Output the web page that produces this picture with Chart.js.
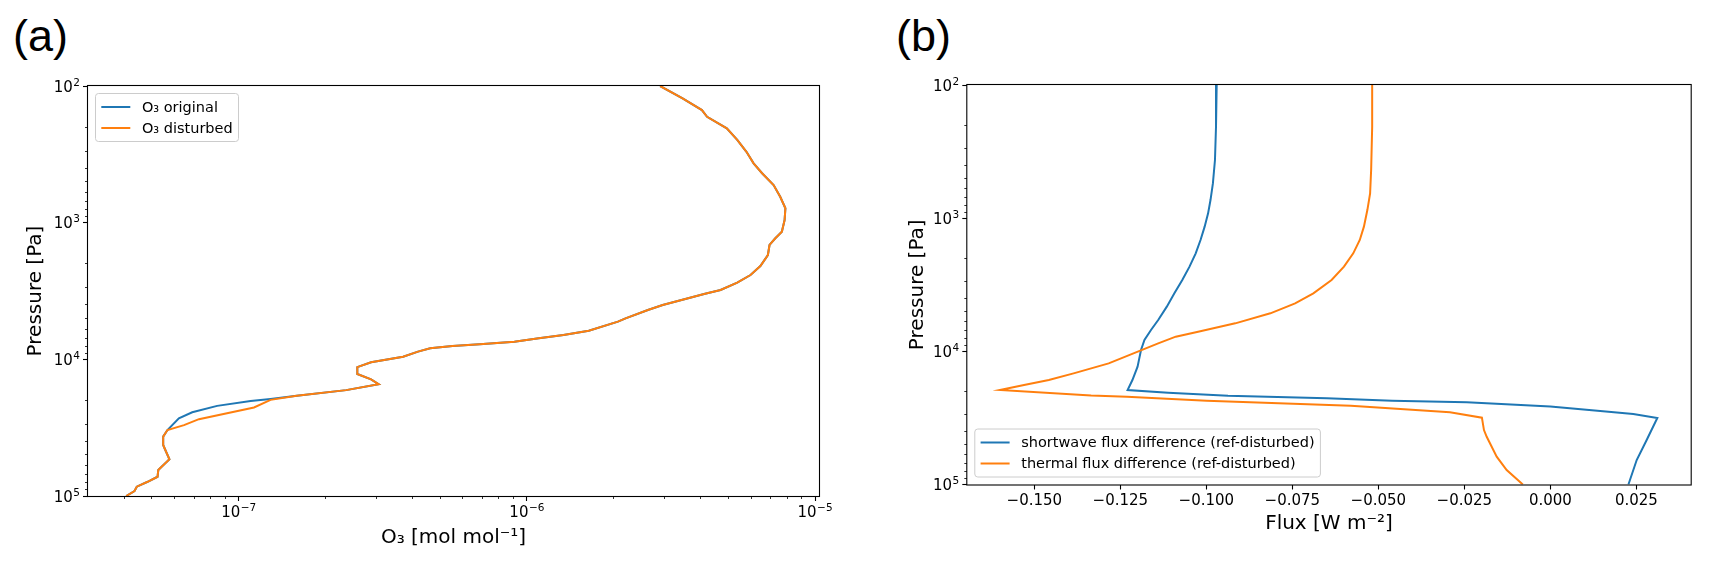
<!DOCTYPE html>
<html>
<head>
<meta charset="utf-8">
<script src="https://cdn.jsdelivr.net/npm/chart.js@4.4.1/dist/chart.umd.min.js"></script>
<style>
  html, body { margin: 0; padding: 0; background: #fff; }
  body { width: 1709px; height: 565px; position: relative; overflow: hidden; font-family: "DejaVu Sans", sans-serif; }
  .panel { position: absolute; top: 0; height: 565px; }
  .tag { position: absolute; font-family: "Liberation Sans", sans-serif; font-size: 45px; line-height: 1; color: #000; }
</style>
</head>
<body>
<div class="tag" style="left:13px; top:13px;">(a)</div>
<div class="tag" style="left:896px; top:13px;">(b)</div>
<div class="panel" style="left:0; width:880px;"><canvas id="chartA"></canvas></div>
<div class="panel" style="left:880px; width:829px;"><canvas id="chartB"></canvas></div>

<script>
// ---- panel (a): ozone profiles ----
var pressureOriginal = [100, 123, 150, 168, 204, 248, 303, 368, 435, 530, 646, 785, 956, 1164, 1301, 1456, 1725, 2075, 2415, 2750,
    3110, 3325, 3637, 4003, 4354, 5010, 5303, 6170, 6635, 7016, 7430, 7760, 7985, 8300, 8785, 9560, 10500, 11400, 12800, 14000,
    15200, 16800, 18500, 19500, 20200, 21900, 24400, 27000, 32900, 36800, 42300, 45500, 53900, 64600, 72300, 78700, 85500, 92000, 100000];
var o3Original = [2.90e-6, 3.47e-6, 4.05e-6, 4.22e-6, 4.94e-6, 5.37e-6, 5.78e-6, 6.12e-6, 6.55e-6, 7.18e-6, 7.57e-6, 7.89e-6, 7.84e-6, 7.67e-6, 7.28e-6, 6.95e-6, 6.86e-6, 6.46e-6, 5.97e-6, 5.37e-6,
    4.70e-6, 4.12e-6, 3.52e-6, 2.96e-6, 2.63e-6, 2.20e-6, 2.07e-6, 1.64e-6, 1.34e-6, 1.10e-6, 9.05e-7, 6.86e-7, 5.52e-7, 4.62e-7, 4.19e-7, 3.72e-7, 2.88e-7, 2.58e-7, 2.58e-7, 2.88e-7,
    3.06e-7, 2.36e-7, 1.59e-7, 1.29e-7, 1.10e-7, 8.42e-8, 6.90e-8, 6.20e-8, 5.66e-8, 5.47e-8, 5.47e-8, 5.55e-8, 5.75e-8, 5.26e-8, 5.23e-8, 4.83e-8, 4.43e-8, 4.35e-8, 4.07e-8];

var pressureDisturbed = [100, 123, 150, 168, 204, 248, 303, 368, 435, 530, 646, 785, 956, 1164, 1301, 1456, 1725, 2075, 2415, 2750,
    3110, 3325, 3637, 4003, 4354, 5010, 5303, 6170, 6635, 7016, 7430, 7760, 7985, 8300, 8785, 9560, 10500, 11400, 12800, 14000,
    15200, 16800, 18500, 19800, 22500, 27400, 30300, 32900, 36800, 42300, 45500, 53900, 64600, 72300, 78700, 85500, 92000, 100000];
var o3Disturbed = [2.90e-6, 3.47e-6, 4.05e-6, 4.22e-6, 4.94e-6, 5.37e-6, 5.78e-6, 6.12e-6, 6.55e-6, 7.18e-6, 7.57e-6, 7.89e-6, 7.84e-6, 7.67e-6, 7.28e-6, 6.95e-6, 6.86e-6, 6.46e-6, 5.97e-6, 5.37e-6,
    4.70e-6, 4.12e-6, 3.52e-6, 2.96e-6, 2.63e-6, 2.20e-6, 2.07e-6, 1.64e-6, 1.34e-6, 1.10e-6, 9.05e-7, 6.86e-7, 5.52e-7, 4.62e-7, 4.19e-7, 3.72e-7, 2.88e-7, 2.58e-7, 2.58e-7, 2.88e-7,
    3.06e-7, 2.36e-7, 1.59e-7, 1.29e-7, 1.13e-7, 7.28e-8, 6.46e-8, 5.66e-8, 5.47e-8, 5.47e-8, 5.55e-8, 5.75e-8, 5.26e-8, 5.23e-8, 4.83e-8, 4.43e-8, 4.35e-8, 4.07e-8];

// ---- panel (b): flux differences ----
var pressureShortwave = [100, 206, 366, 548, 731, 920, 1158, 1458, 1837, 2313, 2913, 3668, 4618, 5818, 6916, 8220, 9770, 13040, 16420, 19510,
    20450, 21600, 22500, 23500, 24100, 26000, 28100, 29500, 31700, 46300, 65500, 100000];
var fluxShortwave = [-0.0970, -0.0972, -0.0975, -0.0981, -0.0988, -0.0995, -0.1005, -0.1017, -0.1031, -0.1049, -0.1070, -0.1093, -0.1115, -0.1140, -0.1161, -0.1180, -0.1190, -0.1200, -0.1215, -0.1229,
    -0.1111, -0.0937, -0.0650, -0.0460, -0.0243, 0.0000, 0.0145, 0.0241, 0.0311, 0.0280, 0.0251, 0.0227];

var pressureThermal = [100, 206, 435, 651, 869, 1158, 1458, 1837, 2313, 2913, 3668, 4360, 5183, 6163, 7118, 7760, 8708, 10350, 12310, 14630, 16420, 17890, 19510,
    21500, 21900, 23500, 25600, 28700, 31500, 39000, 43800, 61800, 77800, 100000];
var fluxThermal = [-0.0518, -0.0518, -0.0521, -0.0524, -0.0532, -0.0542, -0.0554, -0.0573, -0.0600, -0.0636, -0.0689, -0.0742, -0.0814, -0.0916, -0.1024, -0.1089, -0.1140, -0.1212, -0.1284, -0.1386, -0.1458, -0.1530, -0.1600,
    -0.1335, -0.1231, -0.0999, -0.0580, -0.0292, -0.0199, -0.0193, -0.0185, -0.0156, -0.0127, -0.0080];

// axis ticks
var pressureTicks = [1e2, 1e3, 1e4, 1e5];
var o3Ticks = [1e-8, 1e-7, 1e-6, 1e-5];
var fluxTicks = [-0.150, -0.125, -0.100, -0.075, -0.050, -0.025, 0.000, 0.025];

var BLUE = '#1f77b4', ORANGE = '#ff7f0e';
var FONT = '"DejaVu Sans"';
Chart.defaults.font.family = FONT;
Chart.defaults.color = '#000';

function isDecade(v) {
    var e = Math.log10(v);
    return Math.abs(e - Math.round(e)) < 1e-6;
}
// decades plus the 2..9 minor ticks, kept inside the axis range
function logTicks(decades, lo, hi) {
    var out = [];
    decades.forEach(function (d) {
        for (var m = 1; m < 10; m++) {
            var v = m * d;
            if (v >= lo * 0.999999 && v <= hi * 1.000001) out.push({ value: v });
        }
    });
    return out;
}
function pairs(xs, ys) {
    return xs.map(function (x, i) { return { x: x, y: ys[i] }; });
}

var tickFont = { size: 15 };

function gridFor(side) {
    return {
        drawOnChartArea: false,
        drawTicks: true,
        tickLength: 5,
        tickColor: '#000',
        tickWidth: function (c) { return side === 'lin' || isDecade(c.tick.value) ? 1.1 : 0.8; },
        tickBorderDash: function (c) {
            if (side === 'lin' || isDecade(c.tick.value)) return [];
            return side === 'left' ? [0, 2, 3, 20] : [3, 20];
        }
    };
}

// full box round the plot, like matplotlib spines
var frame = {
    id: 'frame',
    afterDatasetsDraw: function (chart) {
        var ctx = chart.ctx, a = chart.chartArea;
        ctx.save();
        ctx.strokeStyle = '#000';
        ctx.lineWidth = 1.1;
        ctx.strokeRect(a.left - 0.5, a.top - 0.5, a.right - a.left + 1, a.bottom - a.top + 1);
        ctx.restore();
    }
};

// "10" with a raised exponent at each decade of the log axes
var powLabels = {
    id: 'powLabels',
    afterDraw: function (chart) {
        var ctx = chart.ctx;
        ctx.save();
        ctx.fillStyle = '#000';
        ctx.textAlign = 'left';
        ctx.textBaseline = 'alphabetic';
        Object.keys(chart.scales).forEach(function (k) {
            var s = chart.scales[k];
            if (s.type !== 'logarithmic') return;
            s.ticks.forEach(function (t) {
                if (!isDecade(t.value)) return;
                var exp = String(Math.round(Math.log10(t.value))).replace('-', '\u2212');
                ctx.font = '15px ' + FONT;
                var wb = ctx.measureText('10').width;
                ctx.font = '10.5px ' + FONT;
                var we = ctx.measureText(exp).width;
                var w = wb + we + 0.5;
                var pos = s.getPixelForValue(t.value);
                var x0, yb;
                if (s.isHorizontal()) { x0 = pos - w / 2; yb = s.top + 20.5; }
                else { x0 = s.right - 8 - w; yb = pos + 5.7; }
                ctx.font = '15px ' + FONT;
                ctx.fillText('10', x0, yb);
                ctx.font = '10.5px ' + FONT;
                ctx.fillText(exp, x0 + wb + 0.5, yb - 6);
            });
        });
        ctx.restore();
    }
};

// legend drawn inside the axes
var insideLegend = {
    id: 'insideLegend',
    afterDraw: function (chart, args, opts) {
        var ctx = chart.ctx, a = chart.chartArea;
        var ds = chart.data.datasets;
        ctx.save();
        ctx.font = '14.5px ' + FONT;
        var textW = 0;
        ds.forEach(function (d) { textW = Math.max(textW, ctx.measureText(d.label).width); });
        var pad = 5.8, handle = 29, gap = 11.6, rowH = 21;
        var w = pad * 2 + handle + gap + textW;
        var h = rowH * ds.length + 6;
        var x = a.left + 7.5;
        var y = opts.corner === 'top' ? a.top + 7.5 : a.bottom - 7.5 - h;
        ctx.beginPath();
        ctx.roundRect(x, y, w, h, 3);
        ctx.fillStyle = 'rgba(255,255,255,0.8)';
        ctx.fill();
        ctx.strokeStyle = '#cccccc';
        ctx.lineWidth = 1;
        ctx.stroke();
        ds.forEach(function (d, i) {
            var cy = y + 3 + rowH * (i + 0.5);
            ctx.beginPath();
            ctx.moveTo(x + pad, cy);
            ctx.lineTo(x + pad + handle, cy);
            ctx.strokeStyle = d.borderColor;
            ctx.lineWidth = 2;
            ctx.stroke();
            ctx.fillStyle = '#000';
            ctx.textBaseline = 'middle';
            ctx.fillText(d.label, x + pad + handle + gap, cy + 1);
        });
        ctx.restore();
    }
};

function pressureAxis(width, titlePad) {
    return {
        type: 'logarithmic',
        position: 'left',
        reverse: true,
        min: 100,
        max: 1e5,
        afterBuildTicks: function (s) { s.ticks = logTicks(pressureTicks, 100, 1e5); },
        afterFit: function (s) { s.width = width; },
        ticks: { callback: function () { return ''; }, autoSkip: false, font: tickFont, padding: 3 },
        grid: gridFor('left'),
        border: { display: false },
        title: { display: true, text: 'Pressure [Pa]', font: { size: 20 }, padding: { top: titlePad, bottom: 0 } }
    };
}

var common = {
    responsive: true,
    maintainAspectRatio: false,
    animation: false,
    events: [],
    elements: { point: { radius: 0, hoverRadius: 0 }, line: { borderWidth: 2, tension: 0 } }
};

new Chart(document.getElementById('chartA'), {
    type: 'scatter',
    data: {
        datasets: [
            { label: 'O\u2083 original', data: pairs(o3Original, pressureOriginal), borderColor: BLUE, backgroundColor: BLUE, showLine: true, order: 1 },
            { label: 'O\u2083 disturbed', data: pairs(o3Disturbed, pressureDisturbed), borderColor: ORANGE, backgroundColor: ORANGE, showLine: true, order: 0 }
        ]
    },
    options: Object.assign({}, common, {
        layout: { padding: { top: 86, right: 61, left: 0, bottom: 0 } },
        plugins: { legend: { display: false }, tooltip: { enabled: false }, insideLegend: { corner: 'top' } },
        scales: {
            x: {
                type: 'logarithmic',
                position: 'bottom',
                min: 3.11e-8,
                max: 1.032e-5,
                afterBuildTicks: function (s) { s.ticks = logTicks(o3Ticks, 3.11e-8, 1.032e-5); },
                afterFit: function (s) { s.height = 69; },
                ticks: { callback: function () { return ''; }, autoSkip: false, maxRotation: 0, font: tickFont, padding: 3 },
                grid: gridFor('bottom'),
                border: { display: false },
                title: { display: true, text: 'O\u2083 [mol mol\u207B\u00B9]', font: { size: 20 }, padding: { top: 0, bottom: 15.5 } }
            },
            y: pressureAxis(88, 23.5)
        }
    }),
    plugins: [frame, powLabels, insideLegend]
});

new Chart(document.getElementById('chartB'), {
    type: 'scatter',
    data: {
        datasets: [
            { label: 'shortwave flux difference (ref-disturbed)', data: pairs(fluxShortwave, pressureShortwave), borderColor: BLUE, backgroundColor: BLUE, showLine: true, order: 1 },
            { label: 'thermal flux difference (ref-disturbed)', data: pairs(fluxThermal, pressureThermal), borderColor: ORANGE, backgroundColor: ORANGE, showLine: true, order: 0 }
        ]
    },
    options: Object.assign({}, common, {
        layout: { padding: { top: 85, right: 18.3, left: 0, bottom: 0 } },
        plugins: { legend: { display: false }, tooltip: { enabled: false }, insideLegend: { corner: 'bottom' } },
        scales: {
            x: {
                type: 'linear',
                position: 'bottom',
                min: -0.1695,
                max: 0.0408,
                afterBuildTicks: function (s) { s.ticks = fluxTicks.map(function (v) { return { value: v }; }); },
                afterFit: function (s) { s.height = 80.5; },
                ticks: {
                    callback: function (v) { return (v < -1e-9 ? '\u2212' : '') + Math.abs(v).toFixed(3); },
                    autoSkip: false, maxRotation: 0, font: tickFont, padding: 3
                },
                grid: gridFor('lin'),
                border: { display: false },
                title: { display: true, text: 'Flux [W m\u207B\u00B2]', font: { size: 20 }, padding: { top: 0, bottom: 29 } }
            },
            y: pressureAxis(87.3, 25.5)
        }
    }),
    plugins: [frame, powLabels, insideLegend]
});
</script>
</body>
</html>
